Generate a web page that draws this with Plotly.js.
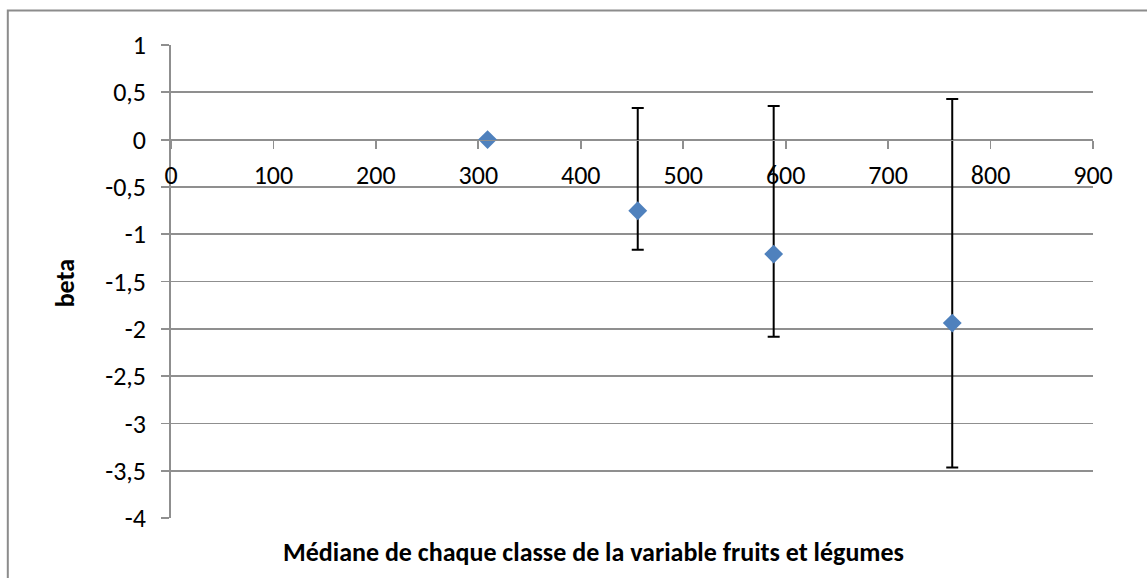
<!DOCTYPE html>
<html>
<head>
<meta charset="utf-8">
<script src="https://cdn.plot.ly/plotly-3.0.1.min.js"></script>
<style>html,body{margin:0;padding:0;background:#fff;}#chart{width:1147px;height:578px;}</style>
</head>
<body>
<div id="chart"></div>
<script>
// Data
const medians = [309, 455.6, 588.3, 762.6];
const betas = [0, -0.752, -1.21, -1.94];
const ciUpper = [null, 0.335, 0.355, 0.43];
const ciLower = [null, -1.165, -2.083, -3.465];

const xTitle = 'Médiane de chaque classe de la variable fruits et légumes';
const yTitle = 'beta';
const yTickVals = [1, 0.5, 0, -0.5, -1, -1.5, -2, -2.5, -3, -3.5, -4];
const yTickText = ['1', '0,5', '0', '-0,5', '-1', '-1,5', '-2', '-2,5', '-3', '-3,5', '-4'];
const xTickVals = [0, 100, 200, 300, 400, 500, 600, 700, 800, 900];
const xTickText = ['0', '100', '200', '300', '400', '500', '600', '700', '800', '900'];

const errPlus = betas.map((b, i) => ciUpper[i] === null ? NaN : ciUpper[i] - b);
const errMinus = betas.map((b, i) => ciLower[i] === null ? NaN : b - ciLower[i]);

const FONT = 'Carlito, "Open Sans", sans-serif';
const GRID = '#8f8f8f';

const trace = {
  type: 'scatter',
  mode: 'markers',
  x: medians,
  y: betas,
  marker: {symbol: 'diamond', size: 14.5, color: '#4f81bd', line: {width: 0}},
  error_y: {
    type: 'data', symmetric: false,
    array: errPlus, arrayminus: errMinus,
    color: '#000000', thickness: 2, width: 6
  },
  hoverinfo: 'x+y',
  showlegend: false
};

const layout = {
  width: 1147, height: 578,
  margin: {l: 171, r: 54, t: 45, b: 60, pad: 0},
  paper_bgcolor: '#ffffff', plot_bgcolor: '#ffffff',
  font: {family: FONT, size: 26, color: '#000000'},
  xaxis: {
    range: [0, 900],
    tickvals: xTickVals, ticktext: xTickText,
    anchor: 'free', position: 0.8,
    showgrid: false, zeroline: false,
    showline: true, linecolor: GRID, linewidth: 1.8,
    ticks: 'outside', ticklen: 8, tickwidth: 1.8, tickcolor: GRID,
    ticklabelstandoff: 3,
    tickfont: {family: FONT, size: 26, color: '#000'}
  },
  yaxis: {
    range: [-4, 1],
    tickvals: yTickVals, ticktext: yTickText,
    showgrid: true, gridcolor: GRID, gridwidth: 1.8,
    zeroline: false,
    showline: true, linecolor: GRID, linewidth: 1.8,
    ticks: 'outside', ticklen: 8, tickwidth: 1.8, tickcolor: GRID,
    ticklabelstandoff: 10,
    tickfont: {family: FONT, size: 26, color: '#000'}
  },
  annotations: [
    {text: '<b>' + xTitle + '</b>', xref: 'paper', yref: 'paper',
     x: 0.4585, y: -0.072, xanchor: 'center', yanchor: 'middle', showarrow: false,
     font: {family: FONT, size: 26, color: '#000'}},
    {text: '<b>' + yTitle + '</b>', xref: 'paper', yref: 'paper',
     x: -0.1155, y: 0.495, xanchor: 'center', yanchor: 'middle', textangle: -90, showarrow: false,
     font: {family: FONT, size: 26, color: '#000'}}
  ],
  shapes: [
    {type: 'rect', xref: 'paper', yref: 'paper', x0: -0.177, x1: 1.3, y0: -0.3, y1: 1.0729,
     line: {color: '#8c8c8c', width: 2}, fillcolor: 'rgba(0,0,0,0)', layer: 'below'}
  ]
};

Plotly.newPlot('chart', [trace], layout, {displayModeBar: false, staticPlot: true});
</script>
</body>
</html>
